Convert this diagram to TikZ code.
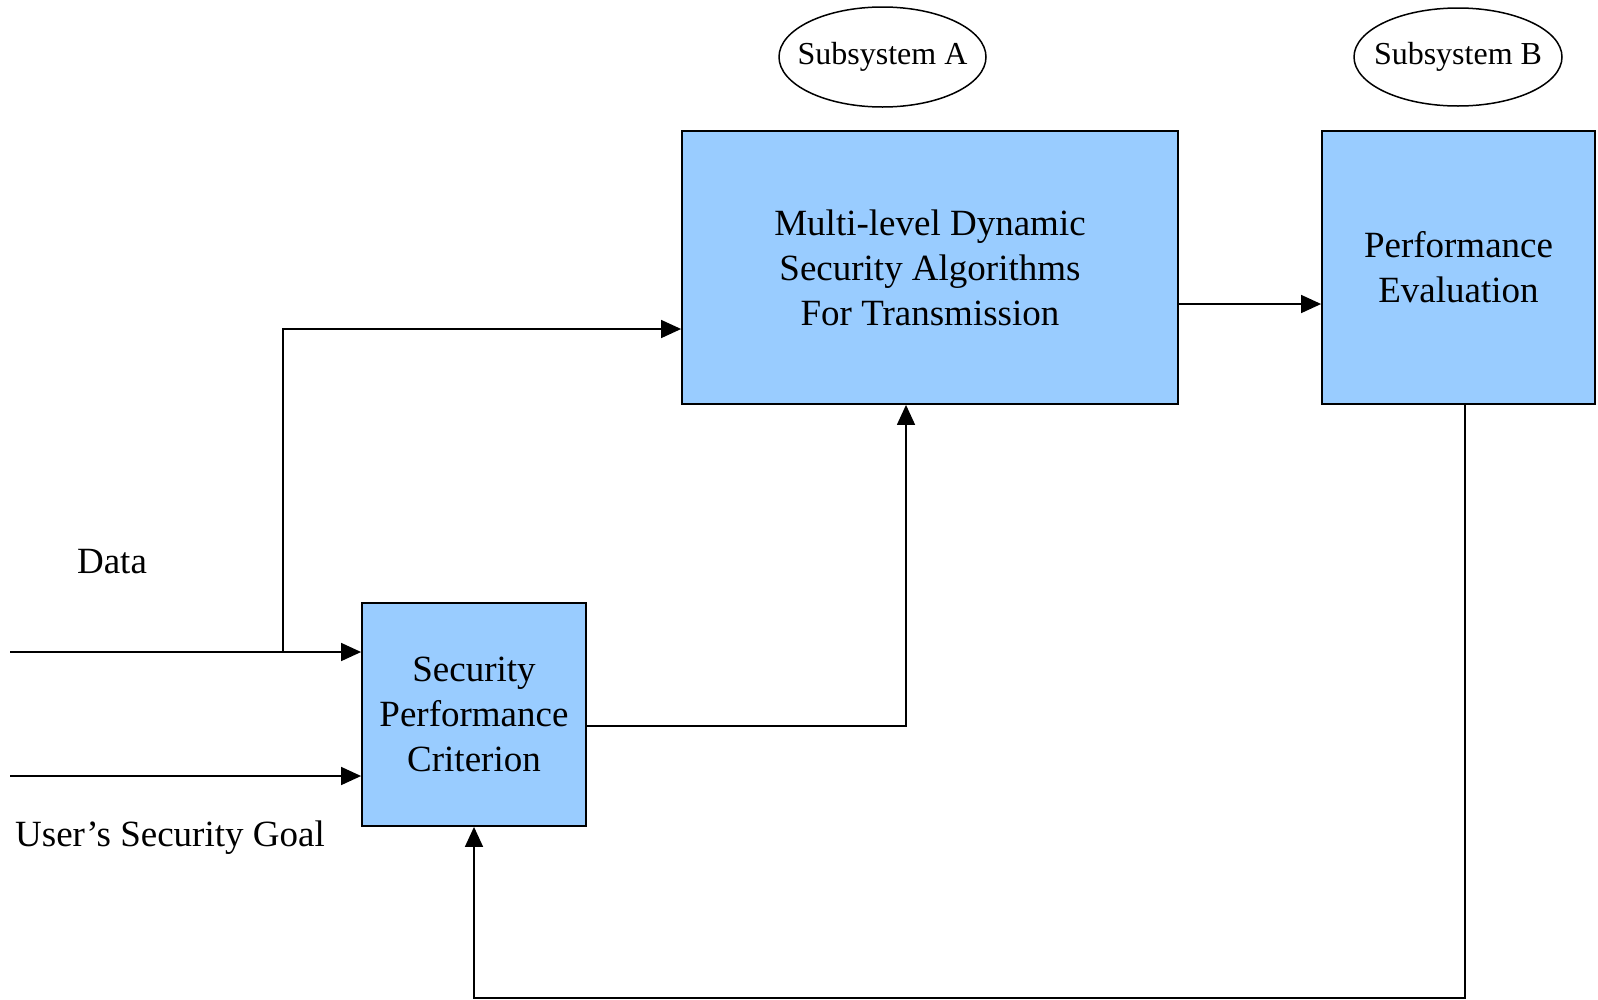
\documentclass[tikz,border=0pt]{standalone}
\usepackage{fontspec}
\setmainfont{Liberation Serif}
\usetikzlibrary{arrows.meta,shapes.geometric,calc}
\definecolor{boxblue}{HTML}{99CCFF}
\begin{document}
\begin{tikzpicture}[x=1pt,y=-1pt,
  block/.style={draw=black,line width=1.8pt,fill=boxblue,align=center,inner sep=0pt,
    font=\fontsize{37}{45}\selectfont},
  subsys/.style={draw=black,line width=1.5pt,ellipse,inner sep=0pt},
  subtxt/.style={inner sep=0pt,font=\fontsize{32}{38}\selectfont},
  arr/.style={line width=1.5pt,-{Triangle[length=20pt,width=18pt]}},
  lbl/.style={font=\fontsize{37}{45}\selectfont,inner sep=0pt}]
\useasboundingbox (0,0) rectangle (1598,999);
\node[block,minimum width=496pt,minimum height=273pt] (main) at (930,267.5)
  {Multi-level Dynamic\\Security Algorithms\\For Transmission};
\node[block,minimum width=273pt,minimum height=273pt] (B) at (1458.5,267.5)
  {Performance\\Evaluation};
\node[block,minimum width=224pt,minimum height=223pt] (spc) at (474,714.5)
  {Security\\Performance\\Criterion};
\node[subsys,minimum width=207pt,minimum height=100pt] (ea) at (882.5,57) {};
\node[subtxt] (eatxt) at (ea.center) {Subsystem A};
\node[subsys,minimum width=208pt,minimum height=98pt] (eb) at (1458,57) {};
\node[subtxt] (ebtxt) at (eb.center) {Subsystem B};
\node[lbl] (data) at (112,562) {Data};
\node[lbl] (goal) at (170,838) {User’s Security Goal};
\coordinate (dataIn) at (10,652);
\coordinate (goalIn) at (10,776);
\coordinate (split) at (283,652);
\coordinate (fb) at (1465,998);
\draw[arr] (dataIn) -- (dataIn -| spc.west);
\draw[arr] (goalIn) -- (goalIn -| spc.west);
\draw[arr] (split) |- ([yshift=-61.5pt]main.west);
\draw[arr] ([yshift=-11.5pt]spc.east) -| ([xshift=-24pt]main.south);
\draw[arr] ([yshift=-36.5pt]main.east) -- ([yshift=-36.5pt]B.west);
\draw[arr] (B.south -| fb) -- (fb) -| (spc.south);
\end{tikzpicture}
\end{document}
